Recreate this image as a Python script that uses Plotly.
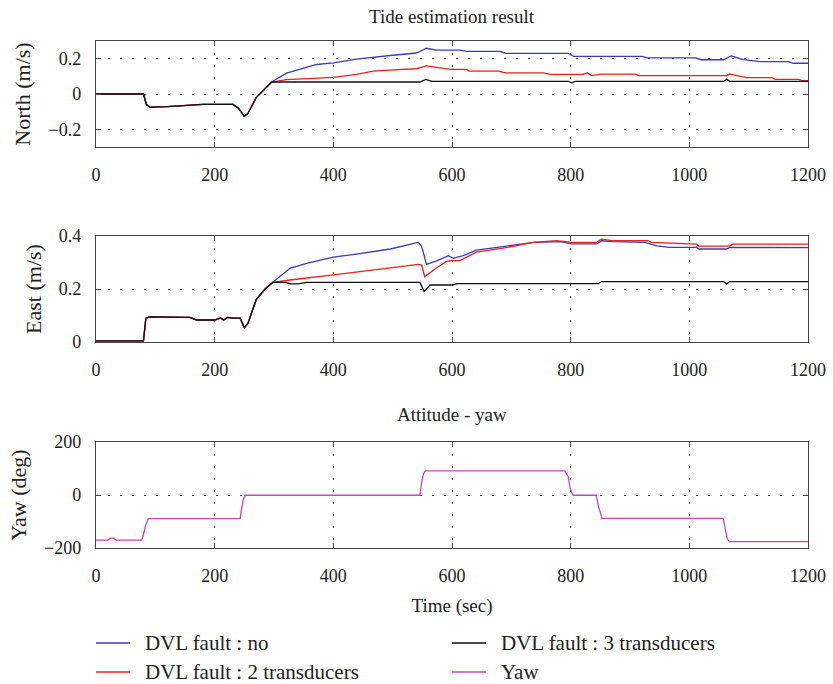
import plotly.graph_objects as go
from plotly.subplots import make_subplots

# ---- North tide estimate (m/s): breakpoints (time in sec, value) ----
north_common_t = [0, 80, 85, 91, 120, 160, 180, 231, 240, 250, 256, 270, 296]
north_common_v = [0.0, 0.0, -0.06, -0.074, -0.072, -0.062, -0.059, -0.059, -0.08, -0.126, -0.11, -0.02, 0.068]

north_no_t = [296, 321, 372, 400, 439, 496, 540, 557, 574, 613, 625, 681, 690, 796, 805, 920, 930, 1010, 1020,
              1057, 1071, 1091, 1119, 1167, 1175, 1200]
north_no_v = [0.068, 0.118, 0.167, 0.176, 0.198, 0.218, 0.232, 0.259, 0.248, 0.248, 0.241, 0.241, 0.23, 0.23,
              0.213, 0.213, 0.204, 0.204, 0.194, 0.194, 0.215, 0.194, 0.183, 0.183, 0.174, 0.174]

north_2tr_t = [296, 321, 400, 439, 467, 501, 540, 557, 580, 597, 625, 629, 678, 690, 754, 765, 821, 828, 835,
               851, 909, 915, 1063, 1068, 1080, 1097, 1139, 1145, 1184, 1190, 1200]
north_2tr_v = [0.068, 0.081, 0.094, 0.111, 0.13, 0.137, 0.143, 0.159, 0.148, 0.139, 0.139, 0.13, 0.13, 0.12,
               0.12, 0.111, 0.111, 0.12, 0.104, 0.113, 0.113, 0.104, 0.104, 0.113, 0.104, 0.093, 0.093, 0.083,
               0.083, 0.076, 0.076]

north_3tr_t = [296, 546, 556, 566, 796, 802, 808, 1058, 1063, 1068, 1200]
north_3tr_v = [0.068, 0.068, 0.083, 0.072, 0.072, 0.063, 0.072, 0.072, 0.083, 0.072, 0.072]

# ---- East tide estimate (m/s) ----
east_common_t = [0, 80, 84, 90, 158, 170, 200, 210, 215, 222, 230, 243, 250, 256, 270, 285, 298]
east_common_v = [0.004, 0.004, 0.09, 0.095, 0.093, 0.083, 0.083, 0.091, 0.083, 0.093, 0.09, 0.09, 0.054, 0.07,
                 0.16, 0.2, 0.225]

east_no_t = [298, 327, 355, 400, 439, 496, 543, 549, 557, 574, 594, 602, 619, 641, 686, 737, 782, 802, 844,
             852, 872, 925, 945, 967, 1012, 1016, 1063, 1068, 1200]
east_no_v = [0.225, 0.278, 0.297, 0.32, 0.332, 0.351, 0.376, 0.36, 0.293, 0.306, 0.326, 0.316, 0.326, 0.347,
             0.36, 0.376, 0.379, 0.37, 0.37, 0.382, 0.379, 0.376, 0.363, 0.357, 0.357, 0.351, 0.351, 0.357, 0.356]

east_2tr_t = [298, 327, 400, 439, 496, 543, 549, 554, 574, 590, 597, 613, 641, 686, 737, 776, 802, 844, 852,
              872, 930, 936, 1012, 1016, 1068, 1073, 1200]
east_2tr_v = [0.225, 0.234, 0.253, 0.265, 0.28, 0.293, 0.29, 0.246, 0.28, 0.303, 0.307, 0.307, 0.339, 0.354,
              0.376, 0.382, 0.376, 0.376, 0.388, 0.382, 0.382, 0.376, 0.369, 0.362, 0.362, 0.369, 0.369]

east_3tr_t = [298, 320, 328, 340, 355, 546, 553, 563, 601, 608, 847, 852, 1058, 1063, 1068, 1200]
east_3tr_v = [0.225, 0.225, 0.219, 0.219, 0.225, 0.225, 0.19, 0.215, 0.215, 0.22, 0.22, 0.228, 0.228, 0.219,
              0.228, 0.228]

# ---- Yaw attitude (deg) ----
yaw_t = [0, 20, 24, 30, 34, 77, 80, 83, 88, 243, 245, 248, 251, 546, 549, 552, 555, 790, 796, 799, 804, 843,
         847, 853, 1057, 1061, 1064, 1067, 1200]
yaw_v = [-170, -170, -163, -163, -170, -170, -150, -120, -89, -89, -57, -20, -1, -1, 50, 80, 91, 91, 69, 25,
         -1, -1, -44, -88, -88, -132, -165, -176, -176]

series_names = ["DVL fault : no", "DVL fault : 2 transducers", "DVL fault : 3 transducers", "Yaw"]
colors = {"DVL fault : no": "#3c3cb8", "DVL fault : 2 transducers": "#e8221c",
          "DVL fault : 3 transducers": "#111111", "Yaw": "#c846b8"}

FONT = "Liberation Serif"
TXT = "#222222"
W, H = 833.0, 684.0
PLOT_L, PLOT_R = 96.0, 808.0

fig = make_subplots(rows=3, cols=1)


def branch(common_t, common_v, t, v):
    return common_t + t[1:], common_v + v[1:]


north = {
    "DVL fault : no": branch(north_common_t, north_common_v, north_no_t, north_no_v),
    "DVL fault : 2 transducers": branch(north_common_t, north_common_v, north_2tr_t, north_2tr_v),
    "DVL fault : 3 transducers": branch(north_common_t, north_common_v, north_3tr_t, north_3tr_v),
}
east = {
    "DVL fault : no": branch(east_common_t, east_common_v, east_no_t, east_no_v),
    "DVL fault : 2 transducers": branch(east_common_t, east_common_v, east_2tr_t, east_2tr_v),
    "DVL fault : 3 transducers": branch(east_common_t, east_common_v, east_3tr_t, east_3tr_v),
}

for row, data in ((1, north), (2, east)):
    for name in series_names[:3]:
        t, v = data[name]
        fig.add_trace(go.Scatter(x=t, y=v, mode="lines", name=name, legendgroup=name, showlegend=False,
                                 line=dict(color=colors[name], width=1.3)), row=row, col=1)

fig.add_trace(go.Scatter(x=yaw_t, y=yaw_v, mode="lines", name="Yaw", showlegend=False,
                         line=dict(color=colors["Yaw"], width=1.3)), row=3, col=1)

# panel placement (pixel rows converted to paper fractions)
domains = [(41, 147), (236, 342), (442, 548)]
y_ranges = [[-0.3, 0.3], [0, 0.4], [-200, 200]]
y_ticks = [[-0.2, 0, 0.2], [0, 0.2, 0.4], [-200, 0, 200]]
y_ticktext = [["−0.2", "0", "0.2"], ["0", "0.2", "0.4"], ["−200", "0", "200"]]
y_titles = ["North (m/s)", "East (m/s)", "Yaw (deg)"]

axis_style = dict(showline=True, linecolor="#444444", linewidth=1.4, mirror="ticks", ticks="inside",
                  ticklen=5, tickcolor="#444444", showgrid=True, gridcolor="#333333", gridwidth=1,
                  griddash="2px,10px", zeroline=False, automargin=False,
                  tickfont=dict(family=FONT, size=18, color=TXT))

for i in range(3):
    top, bot = domains[i]
    fig.update_yaxes(row=i + 1, col=1, domain=[1 - bot / H, 1 - top / H], range=y_ranges[i],
                     tickvals=y_ticks[i], ticktext=y_ticktext[i], ticklabelstandoff=10,
                     title=dict(text=y_titles[i], font=dict(family=FONT, size=22, color=TXT), standoff=11),
                     **axis_style)
    fig.update_xaxes(row=i + 1, col=1, range=[0, 1200], tickvals=[0, 200, 400, 600, 800, 1000, 1200],
                     ticklabelstandoff=11, **axis_style)

fig.update_xaxes(row=3, col=1, title=dict(text="Time (sec)", font=dict(family=FONT, size=19, color=TXT),
                                          standoff=13))

fig.add_annotation(text="Tide estimation result", xref="paper", yref="paper", x=0.5, y=1 - 16 / H,
                   showarrow=False, font=dict(family=FONT, size=19, color=TXT), yanchor="middle")
fig.add_annotation(text="Attitude - yaw", xref="paper", yref="paper", x=0.5, y=1 - 414 / H,
                   showarrow=False, font=dict(family=FONT, size=19, color=TXT), yanchor="middle")

# two-column key below the panels: (series, swatch left edge px, row centre px)
key_layout = [("DVL fault : no", 96, 643), ("DVL fault : 2 transducers", 96, 672),
              ("DVL fault : 3 transducers", 452, 643), ("Yaw", 452, 672)]
SWATCH = 34
for name, x0, yc in key_layout:
    px0 = (x0 - PLOT_L) / (PLOT_R - PLOT_L)
    px1 = (x0 + SWATCH - PLOT_L) / (PLOT_R - PLOT_L)
    py = 1 - yc / H
    fig.add_shape(type="line", xref="paper", yref="paper", x0=px0, x1=px1, y0=py, y1=py,
                  line=dict(color=colors[name], width=1.3))
    fig.add_annotation(text=name, xref="paper", yref="paper",
                       x=(x0 + SWATCH + 13 - PLOT_L) / (PLOT_R - PLOT_L), y=py,
                       xanchor="left", yanchor="middle", showarrow=False,
                       font=dict(family=FONT, size=21, color=TXT))

fig.update_layout(
    width=833, height=684,
    margin=dict(l=96, r=25, t=0, b=0),
    paper_bgcolor="white", plot_bgcolor="white",
    showlegend=False,
)

fig.write_html("out.html")
